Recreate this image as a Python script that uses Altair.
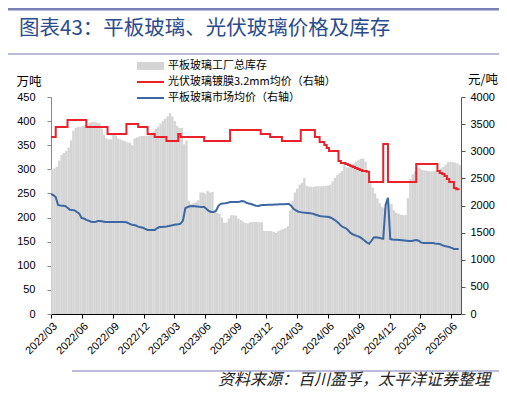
import altair as alt
import pandas as pd

# ---------------- data (weekly) ----------------
start_date = "2022-03-01"
n_weeks = 174

inventory = [300,302,305,318,330,334,338,345,360,380,
             386,388,388,390,392,392,396,398,398,397,
             396,385,372,364,362,362,372,370,364,362,
             360,358,356,355,350,364,366,368,369,369,
             369,370,371,378,384,388,395,400,405,410,
             416,410,400,390,386,386,352,360,235,228,
             230,232,236,252,252,250,255,252,253,213,
             210,208,200,189,190,198,205,205,204,198,
             195,192,189,188,190,191,191,191,190,190,
             172,172,172,172,170,168,172,174,176,178,
             182,215,235,252,260,268,272,282,266,264,
             264,264,265,265,265,265,266,266,268,275,
             282,288,292,296,312,304,304,306,312,316,
             319,322,322,316,292,275,262,250,240,230,
             222,220,228,230,228,215,210,208,206,205,
             205,240,280,290,296,304,302,299,298,297,
             296,296,296,297,298,302,305,310,315,316,
             315,314,312,309]

pv_price = [3262,3262,3446,3446,3446,3446,3446,3575,3575,3575,
            3575,3575,3575,3575,3575,3446,3446,3446,3446,3446,
            3446,3446,3446,3446,3317,3317,3317,3317,3317,3317,
            3317,3317,3502,3502,3502,3502,3502,3446,3446,3446,
            3446,3317,3317,3317,3262,3262,3262,3262,3262,3188,
            3188,3188,3188,3188,3317,3262,3262,3262,3262,3262,
            3262,3262,3262,3262,3262,3188,3188,3188,3188,3188,
            3188,3188,3188,3188,3188,3188,3391,3391,3391,3391,
            3391,3391,3391,3391,3391,3391,3391,3391,3391,3317,
            3317,3317,3317,3262,3262,3262,3262,3262,3188,3188,
            3188,3188,3188,3188,3188,3188,3391,3391,3391,3391,
            3391,3391,3262,3262,3170,3170,3115,3059,3004,3004,
            3004,3004,2820,2783,2783,2765,2746,2728,2710,2690,
            2672,2654,2635,2635,2620,2433,2433,2433,2433,2433,
            2433,3133,3133,2433,2433,2433,2433,2433,2433,2433,
            2433,2433,2433,2433,2433,2765,2765,2765,2765,2765,
            2765,2765,2765,2765,2635,2599,2580,2543,2488,2433,
            2433,2322,2300,2285]

flat_price = [2212,2190,2157,2009,2000,1995,1990,1960,1920,1917,
              1910,1880,1850,1769,1760,1735,1720,1700,1695,1700,
              1714,1714,1705,1695,1695,1695,1695,1695,1695,1695,
              1695,1695,1690,1670,1650,1640,1630,1610,1600,1590,
              1570,1550,1548,1548,1550,1580,1603,1605,1610,1615,
              1622,1630,1640,1650,1655,1665,1720,1950,1972,1985,
              1990,1985,1980,1975,1972,1972,1935,1898,1880,1880,
              1900,1990,2030,2035,2040,2050,2064,2064,2064,2064,
              2070,2083,2075,2050,2035,2027,2010,1995,1990,2005,
              2009,2010,2012,2015,2015,2018,2020,2022,2024,2025,
              2027,2027,1990,1935,1910,1885,1878,1872,1868,1863,
              1858,1850,1835,1820,1806,1800,1795,1792,1788,1770,
              1745,1714,1680,1630,1600,1585,1548,1500,1470,1455,
              1435,1419,1390,1355,1320,1295,1350,1410,1415,1405,
              1395,1385,2009,2140,1382,1375,1370,1367,1364,1360,
              1355,1350,1345,1345,1355,1364,1350,1320,1308,1308,
              1310,1310,1308,1300,1295,1290,1270,1253,1245,1235,
              1220,1200,1198,1198]

tick_months = [(2022,3),(2022,6),(2022,9),(2022,12),(2023,3),(2023,6),(2023,9),
               (2023,12),(2024,3),(2024,6),(2024,9),(2024,12),(2025,3),(2025,6)]

title_text = "图表43：平板玻璃、光伏玻璃价格及库存"
legend_labels = ["平板玻璃工厂总库存", "光伏玻璃镀膜3.2mm均价（右轴）", "平板玻璃市场均价（右轴）"]
source_text = "资料来源：百川盈孚，太平洋证券整理"

# ---------------- table ----------------
dates = pd.date_range(start_date, periods=n_weeks, freq="7D")
df = pd.DataFrame({
    "date": dates.strftime("%Y-%m-%dT00:00:00"),
    "end": (dates + pd.Timedelta(days=7)).strftime("%Y-%m-%dT00:00:00"),
    "inv": inventory,
    "pv": pv_price,
    "flat": flat_price,
})
deco = pd.DataFrame({"k": [0]})

CJK = "Noto Sans CJK SC"
LAT = "Liberation Sans"
RED = "#E8212B"
BLUE = "#3B67A3"
GRAY = "#D4D4D4"

xenc = alt.X(
    "date:T",
    scale=alt.Scale(domain=[alt.DateTime(year=2022, month=3, date=1),
                            alt.DateTime(year=2025, month=7, date=1)]),
    axis=alt.Axis(
        values=[alt.DateTime(year=y, month=m, date=1) for y, m in tick_months],
        format="%Y/%m", labelAngle=-45, title=None, grid=False, labelOverlap=False,
        domainColor="#000000", tickColor="#000000", tickSize=4,
        labelFont=LAT, labelFontSize=11, labelColor="#000000", labelPadding=2,
    ),
)

bars = alt.Chart(df).mark_bar(color=GRAY).encode(
    x=xenc,
    x2="end:T",
    y=alt.Y("inv:Q", scale=alt.Scale(domain=[0, 450]),
            axis=alt.Axis(orient="left", values=list(range(0, 451, 50)), title=None,
                          grid=False, domainColor="#888888", tickColor="#888888",
                          tickSize=4, labelPadding=12, labelFont=LAT, labelFontSize=11,
                          labelColor="#000000")),
    y2=alt.datum(0),
)

red = alt.Chart(df).mark_line(color=RED, strokeWidth=2, interpolate="step-after").encode(
    x=xenc,
    y=alt.Y("pv:Q", scale=alt.Scale(domain=[0, 4000]),
            axis=alt.Axis(orient="right", values=list(range(0, 4001, 500)), title=None,
                          format="d", grid=False, domainColor="#555555",
                          tickColor="#555555", tickSize=4, labelPadding=5,
                          labelFont=LAT, labelFontSize=11, labelColor="#000000")),
)

blue = alt.Chart(df).mark_line(color=BLUE, strokeWidth=2).encode(
    x=xenc,
    y=alt.Y("flat:Q", scale=alt.Scale(domain=[0, 4000]), axis=None),
)

def txt(text, x, y, size, color="#000000", align="left", font=CJK, style="normal"):
    return alt.Chart(deco).mark_text(
        text=text, align=align, baseline="middle", fontSize=size, color=color,
        font=font, fontStyle=style,
    ).encode(x=alt.value(x), y=alt.value(y))

def hline(x1, x2, y, color, w):
    return alt.Chart(deco).mark_rule(color=color, strokeWidth=w).encode(
        x=alt.value(x1), x2=alt.value(x2), y=alt.value(y))

decor = [
    hline(-43, 448, -88, "#7B80B6", 3),
    txt(title_text, -32, -68, 20.5, color="#2B4C8C"),
    hline(-43, 448, -43, "#A3A6CE", 1.5),
    alt.Chart(deco).mark_rect(color=GRAY).encode(
        x=alt.value(86), x2=alt.value(113), y=alt.value(-35), y2=alt.value(-27)),
    txt(legend_labels[0], 117, -31, 11),
    hline(86, 113, -15, RED, 2),
    txt(legend_labels[1], 117, -15, 11),
    hline(86, 113, 1, BLUE, 2),
    txt(legend_labels[2], 117, 1, 11),
    txt("万吨", -22, -15, 12.5, align="center"),
    txt("元/吨", 432, -17, 12.5, align="center"),
    hline(21, 448, 274, "#A3A6CE", 1.5),
    txt(source_text, 439, 283, 16, color="#222222", align="right", style="italic"),
]

chart = alt.layer(bars, red, blue, *decor).resolve_scale(y="independent").properties(
    width=410, height=217,
    autosize=alt.AutoSizeParams(type="none"),
    padding={"left": 43, "top": 89, "right": 38, "bottom": 76},
).configure_view(stroke=None)

chart.save("out.html", embed_options={"renderer": "svg", "actions": False})
